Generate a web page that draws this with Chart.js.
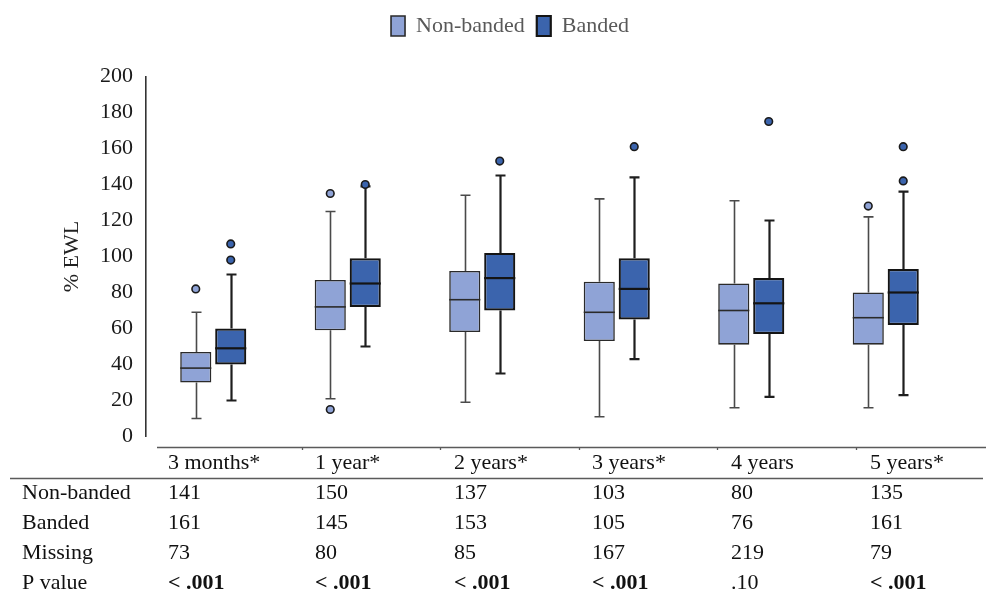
<!DOCTYPE html>
<html>
<head>
<meta charset="utf-8">
<script src="https://cdn.jsdelivr.net/npm/chart.js@4.4.1/dist/chart.umd.min.js"></script>
<style>
  html, body { margin: 0; padding: 0; background: #ffffff; }
  #wrap { position: relative; width: 986px; height: 594px; }
</style>
</head>
<body>
<div id="wrap"><canvas id="c" width="986" height="594"></canvas></div>
<script>
// ---- data ----
const categories = ['3 months*', '1 year*', '2 years*', '3 years*', '4 years', '5 years*'];
const seriesNames = ['Non-banded', 'Banded'];

const nonBandedMin    = [10, 21, 19, 11, 16, 16];
const nonBandedQ1     = [30, 59, 58, 53, 51, 51];
const nonBandedMedian = [38, 72, 76, 69, 70, 66];
const nonBandedQ3     = [47, 87, 92, 86, 85, 80];
const nonBandedMax    = [69, 125, 134, 132, 131, 122];
const nonBandedOutliers = [[82], [135, 15], [], [], [], [128]];

const bandedMin    = [20, 50, 35, 43, 22, 23];
const bandedQ1     = [40, 72, 70, 65, 57, 62];
const bandedMedian = [49, 85, 88, 82, 74, 80];
const bandedQ3     = [60, 99, 102, 99, 88, 93];
const bandedMax    = [90, 139, 145, 144, 120, 136];
const bandedOutliers = [[98, 107], [140], [153], [161], [175], [142, 161]];

const yTicks = [0, 20, 40, 60, 80, 100, 120, 140, 160, 180, 200];

// table below the chart
const rowLabels = ['Non-banded', 'Banded', 'Missing', 'P value'];
const nonBandedN = [141, 150, 137, 103, 80, 135];
const bandedN    = [161, 145, 153, 105, 76, 161];
const missingN   = [73, 80, 85, 167, 219, 79];
const pValues    = ['< .001', '< .001', '< .001', '< .001', '.10', '< .001'];
const pBold      = [true, true, true, true, false, true];

// ---- styles ----
const LIGHT = '#8fa3d6';
const DARK = '#3b64ad';
const SERIF = '"Liberation Serif", "DejaVu Serif", serif';

const stats = [
  { min: nonBandedMin, q1: nonBandedQ1, med: nonBandedMedian, q3: nonBandedQ3, max: nonBandedMax, out: nonBandedOutliers,
    fill: LIGHT, whisker: '#4a4a4a', whiskerW: 1.6, box: '#2a2a2a', boxW: 1.6 },
  { min: bandedMin, q1: bandedQ1, med: bandedMedian, q3: bandedQ3, max: bandedMax, out: bandedOutliers,
    fill: DARK, whisker: '#1e1e1e', whiskerW: 2.2, box: '#141414', boxW: 2.2 }
];

// extra space between the legend and the plot
const legendGap = {
  id: 'legendGap',
  afterInit(chart) {
    const lg = chart.legend;
    if (!lg) return;
    const fit = lg.fit;
    lg.fit = function () { fit.call(this); this.height += 29.5; };
  }
};

const boxPlugin = {
  id: 'boxParts',
  beforeDatasetsDraw(chart) {
    const ctx = chart.ctx, y = chart.scales.y;
    stats.forEach((s, d) => {
      const meta = chart.getDatasetMeta(d);
      meta.data.forEach((el, i) => {
        const x = Math.round(el.x) + 0.5;
        const cap = 10;
        ctx.save();
        ctx.strokeStyle = s.whisker;
        ctx.lineWidth = s.whiskerW;
        ctx.beginPath();
        ctx.moveTo(x, y.getPixelForValue(s.q3[i]));
        ctx.lineTo(x, y.getPixelForValue(s.max[i]));
        ctx.moveTo(x - cap / 2, y.getPixelForValue(s.max[i]));
        ctx.lineTo(x + cap / 2, y.getPixelForValue(s.max[i]));
        ctx.moveTo(x, y.getPixelForValue(s.q1[i]));
        ctx.lineTo(x, y.getPixelForValue(s.min[i]));
        ctx.moveTo(x - cap / 2, y.getPixelForValue(s.min[i]));
        ctx.lineTo(x + cap / 2, y.getPixelForValue(s.min[i]));
        ctx.stroke();
        ctx.restore();
      });
    });
  },
  afterDatasetsDraw(chart) {
    const ctx = chart.ctx, y = chart.scales.y;
    stats.forEach((s, d) => {
      const meta = chart.getDatasetMeta(d);
      meta.data.forEach((el, i) => {
        const x = el.x, w = el.width;
        ctx.save();
        ctx.strokeStyle = s.box;
        ctx.lineWidth = s.boxW;
        const my = y.getPixelForValue(s.med[i]);
        ctx.beginPath();
        ctx.moveTo(x - w / 2, my);
        ctx.lineTo(x + w / 2, my);
        ctx.stroke();
        s.out[i].forEach(v => {
          ctx.beginPath();
          ctx.arc(x, y.getPixelForValue(v), 3.8, 0, Math.PI * 2);
          ctx.fillStyle = s.fill;
          ctx.fill();
          ctx.lineWidth = 1.6;
          ctx.strokeStyle = '#1a1a1a';
          ctx.stroke();
        });
        ctx.restore();
      });
    });
  }
};

const tablePlugin = {
  id: 'table',
  afterDraw(chart) {
    const ctx = chart.ctx;
    ctx.save();
    // rules
    ctx.strokeStyle = '#5a5a5a';
    ctx.lineWidth = 1.3;
    ctx.beginPath();
    ctx.moveTo(157, 447.5); ctx.lineTo(986, 447.5);
    ctx.moveTo(10, 478.5); ctx.lineTo(983, 478.5);
    [302, 440, 579, 717, 856].forEach(x => { ctx.moveTo(x + 0.5, 447); ctx.lineTo(x + 0.5, 450); });
    ctx.stroke();

    const colX = [168, 315, 454, 592, 731, 870];
    ctx.fillStyle = '#111';
    ctx.textBaseline = 'middle';
    ctx.textAlign = 'left';
    ctx.font = '22px ' + SERIF;
    categories.forEach((c, i) => ctx.fillText(c, colX[i], 463));
    const rowY = [493, 523, 553, 583];
    rowLabels.forEach((r, k) => ctx.fillText(r, 22, rowY[k]));
    const rows = [nonBandedN, bandedN, missingN];
    rows.forEach((row, k) => row.forEach((v, i) => ctx.fillText(String(v), colX[i], rowY[k])));
    pValues.forEach((p, i) => {
      ctx.font = (pBold[i] ? 'bold ' : '') + '22px ' + SERIF;
      ctx.fillText(p, colX[i], rowY[3]);
    });
    ctx.restore();
  }
};

new Chart(document.getElementById('c'), {
  type: 'bar',
  data: {
    labels: categories,
    datasets: stats.map((s, d) => ({
      label: seriesNames[d],
      data: categories.map((_, i) => [s.q1[i], s.q3[i]]),
      backgroundColor: s.fill,
      borderColor: s.box,
      borderWidth: s.boxW,
      borderSkipped: false,
      categoryPercentage: 0.52,
      barPercentage: 0.89
    }))
  },
  options: {
    responsive: false,
    animation: false,
    events: [],
    layout: { padding: { left: 67, right: 33, top: 3, bottom: 157.5 } },
    plugins: {
      tooltip: { enabled: false },
      legend: {
        position: 'top',
        align: 'center',
        labels: {
          color: '#595959',
          font: { family: SERIF, size: 22 },
          boxWidth: 14,
          boxHeight: 20,
          padding: 12
        }
      }
    },
    scales: {
      x: { display: false },
      y: {
        min: 0,
        max: 200,
        afterBuildTicks(scale) { scale.ticks = yTicks.map(v => ({ value: v })); },
        afterFit(scale) { scale.width = 146 - 67; },
        grid: { display: false, drawTicks: false },
        border: { display: true, color: '#333333', width: 1.6 },
        ticks: {
          color: '#1a1a1a',
          padding: 13,
          font: { family: SERIF, size: 22 }
        },
        title: {
          display: true,
          text: '% EWL',
          color: '#222222',
          font: { family: SERIF, size: 22 },
          padding: { top: -8, bottom: 0 }
        }
      }
    }
  },
  plugins: [legendGap, boxPlugin, tablePlugin]
});
</script>
</body>
</html>
